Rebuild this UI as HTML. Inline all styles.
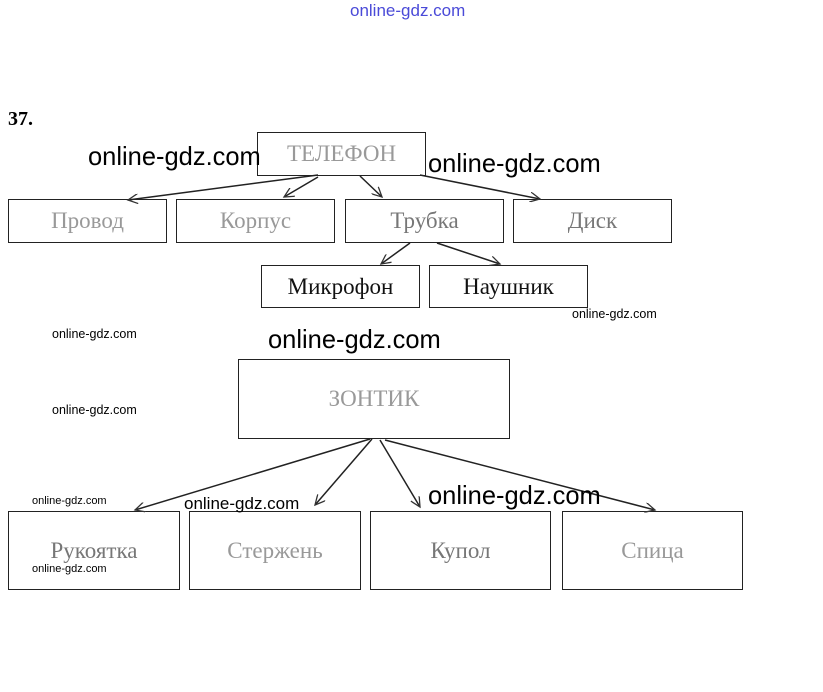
<!DOCTYPE html>
<html><head><meta charset="utf-8"><style>
body{margin:0;width:823px;height:692px;background:#fff;position:relative;overflow:hidden;font-family:"Liberation Serif",serif}
.b{position:absolute;border:1px solid #222;box-sizing:border-box;display:flex;align-items:center;justify-content:center;font-size:23px;color:#999}
.d{color:#111}
.w{position:absolute;font-family:"Liberation Sans",sans-serif;color:#000;white-space:nowrap;line-height:1;transform-origin:0 0}
.L{font-size:26px;transform:scaleX(0.98)}.S{font-size:12.5px}
</style></head><body>
<div class="w" style="left:350px;top:2px;font-size:17px;color:#4a4ad8">online-gdz.com</div>
<div style="position:absolute;left:8px;top:108px;font-weight:bold;font-size:20px">37.</div>
<div class="b" style="left:257px;top:132px;width:169px;height:44px">ТЕЛЕФОН</div>
<div class="b" style="left:8px;top:199px;width:159px;height:44px">Провод</div>
<div class="b" style="left:176px;top:199px;width:159px;height:44px">Корпус</div>
<div class="b" style="left:345px;top:199px;width:159px;height:44px;color:#777">Трубка</div>
<div class="b" style="left:513px;top:199px;width:159px;height:44px;color:#777">Диск</div>
<div class="b d" style="left:261px;top:265px;width:159px;height:43px">Микрофон</div>
<div class="b d" style="left:429px;top:265px;width:159px;height:43px">Наушник</div>
<div class="b" style="left:238px;top:359px;width:272px;height:80px">ЗОНТИК</div>
<div class="b" style="left:8px;top:511px;width:172px;height:79px;color:#777">Рукоятка</div>
<div class="b" style="left:189px;top:511px;width:172px;height:79px">Стержень</div>
<div class="b" style="left:370px;top:511px;width:181px;height:79px;color:#777">Купол</div>
<div class="b" style="left:562px;top:511px;width:181px;height:79px">Спица</div>
<svg width="823" height="692" style="position:absolute;left:0;top:0">
<defs><marker id="a" markerWidth="12" markerHeight="10" refX="10" refY="5" orient="auto" markerUnits="userSpaceOnUse"><path d="M0,0 L10,5 L0,10" fill="none" stroke="#333" stroke-width="1.3"/></marker></defs>
<g stroke="#222" stroke-width="1.5" fill="none" marker-end="url(#a)">
<line x1="318" y1="175" x2="128" y2="200"/>
<line x1="318" y1="177" x2="284" y2="197"/>
<line x1="360" y1="176" x2="382" y2="197"/>
<line x1="420" y1="175" x2="540" y2="199"/>
<line x1="410" y1="243" x2="381" y2="264"/>
<line x1="437" y1="243" x2="500" y2="264"/>
<line x1="370" y1="439" x2="135" y2="510"/>
<line x1="372" y1="439" x2="315" y2="505"/>
<line x1="380" y1="440" x2="420" y2="507"/>
<line x1="385" y1="440" x2="655" y2="510"/>
</g></svg>
<div class="w L" style="left:88px;top:143px">online-gdz.com</div>
<div class="w L" style="left:428px;top:150px">online-gdz.com</div>
<div class="w S" style="left:572px;top:308px">online-gdz.com</div>
<div class="w S" style="left:52px;top:328px">online-gdz.com</div>
<div class="w L" style="left:268px;top:326px">online-gdz.com</div>
<div class="w S" style="left:52px;top:404px">online-gdz.com</div>
<div class="w S" style="left:32px;top:496px;font-size:11px">online-gdz.com</div>
<div class="w" style="left:184px;top:495px;font-size:17px">online-gdz.com</div>
<div class="w L" style="left:428px;top:482px">online-gdz.com</div>
<div class="w S" style="left:32px;top:564px;font-size:11px">online-gdz.com</div>
</body></html>
